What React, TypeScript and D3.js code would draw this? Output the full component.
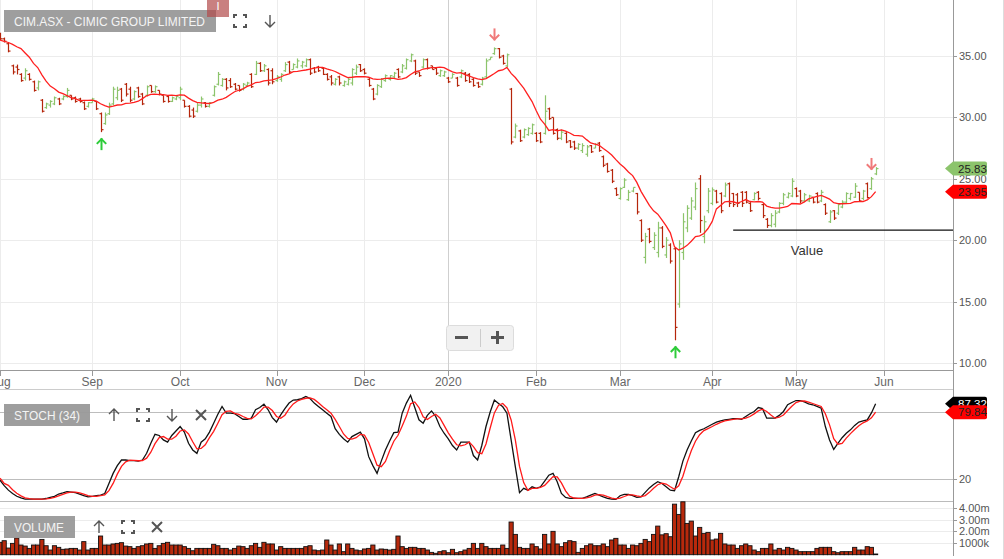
import React, { useEffect, useRef } from 'react';
import * as d3 from 'd3';

// daily bars, 1 Aug 2019 .. 29 May 2020 (index = trading day)
const opens = [
  36.8, 36.4, 36.0, 34.2, 34.1, 33.5, 33.2, 33.5, 32.9, 32.4,
  31.4, 30.8, 31.0, 31.1, 31.5, 31.5, 31.7, 31.8, 31.6, 31.5,
  31.2, 30.9, 31.2, 31.3, 30.3, 29.5, 30.3, 31.1, 31.6, 32.3,
  32.7, 32.3, 31.5, 32.4, 31.9, 31.8, 32.6, 32.1, 32.2, 31.8,
  31.7, 31.3, 31.5, 31.6, 31.4, 30.9, 30.6, 30.5, 31.0, 31.2,
  30.9, 31.8, 32.7, 32.6, 33.1, 33.0, 32.7, 32.6, 32.3, 32.6,
  33.5, 33.5, 34.4, 33.8, 33.9, 33.8, 33.0, 33.1, 33.8, 34.5,
  33.9, 34.1, 34.2, 34.2, 34.7, 34.0, 34.1, 34.0, 33.5, 33.3,
  32.7, 33.3, 32.6, 32.7, 32.8, 33.6, 34.3, 33.9, 33.1, 32.3,
  31.9, 32.5, 33.0, 33.1, 33.3, 33.9, 33.7, 34.0, 34.6, 34.6,
  33.7, 34.1, 34.7, 34.2, 34.0, 33.4, 33.4, 33.2, 33.2, 33.2,
  33.3, 33.6, 33.5, 33.1, 32.8, 32.7, 33.3, 34.7, 35.2, 35.6,
  35.0, 34.2, 32.3, 28.4, 28.9, 28.4, 28.6, 28.7, 28.7, 28.7,
  28.7, 30.7, 30.0, 29.0, 28.3, 28.7, 28.1, 28.0, 27.5, 27.3,
  27.0, 27.7, 27.5, 27.9, 26.8, 26.2, 25.7, 24.2, 23.4, 24.3,
  23.3, 24.0, 23.8, 21.6, 18.6, 20.9, 19.4, 19.0, 21.0, 18.8,
  19.6, 19.3, 14.8, 19.0, 21.0, 21.8, 22.7, 25.0, 20.3, 22.4,
  23.0, 24.0, 23.8, 23.6, 24.6, 23.8, 23.7, 23.9, 23.9, 23.0,
  23.3, 23.9, 22.9, 21.7, 21.2, 21.3, 22.3, 23.0, 23.5, 23.6,
  24.2, 24.0, 23.2, 23.2, 23.5, 23.8, 23.2, 22.9, 21.5, 22.4,
  22.2, 22.7, 23.1, 23.4, 23.5, 23.9, 23.4, 24.6, 24.2, 25.4
];
const highs = [
  36.9, 36.5, 36.1, 34.3, 34.3, 33.6, 34.0, 33.6, 33.0, 33.0,
  31.5, 31.2, 31.4, 31.7, 31.6, 31.8, 32.4, 31.8, 31.7, 31.6,
  31.3, 31.25, 31.6, 31.3, 30.4, 30.4, 31.2, 32.5, 32.5, 32.4,
  32.8, 32.5, 32.2, 32.5, 32.0, 32.6, 32.6, 32.6, 32.2, 31.8,
  31.8, 31.7, 31.8, 32.5, 31.4, 31.0, 30.8, 31.2, 31.7, 31.25,
  31.25, 32.6, 33.7, 33.2, 33.2, 33.2, 32.8, 32.6, 32.8, 32.9,
  33.6, 34.6, 34.5, 34.35, 34.0, 34.0, 33.45, 33.6, 34.5, 34.6,
  34.4, 34.8, 34.6, 34.8, 34.8, 34.1, 34.2, 34.1, 33.6, 33.45,
  33.2, 33.4, 33.0, 33.2, 34.0, 34.3, 34.35, 34.0, 33.2, 32.4,
  32.7, 33.2, 33.5, 33.45, 33.7, 34.0, 34.35, 34.8, 35.2, 34.7,
  33.7, 34.8, 34.8, 34.2, 34.1, 33.9, 33.8, 33.3, 33.6, 33.3,
  33.9, 33.7, 33.6, 33.2, 32.9, 33.3, 34.8, 34.9, 35.7, 35.65,
  35.1, 35.2, 32.4, 29.5, 29.0, 29.1, 29.2, 29.5, 28.8, 28.8,
  31.8, 30.8, 30.0, 29.1, 29.0, 28.8, 28.15, 28.1, 27.9, 27.9,
  27.75, 27.75, 27.9, 28.0, 26.9, 26.3, 25.8, 24.3, 24.3, 25.05,
  24.1, 24.3, 23.85, 21.7, 20.6, 21.0, 20.65, 21.5, 21.15, 20.25,
  19.75, 19.4, 20.0, 22.2, 22.85, 23.5, 24.7, 25.3, 22.0, 24.25,
  24.3, 24.1, 23.9, 24.7, 24.7, 23.85, 23.85, 24.0, 24.0, 23.1,
  23.9, 24.0, 23.0, 21.8, 22.2, 22.45, 23.1, 23.85, 23.9, 25.05,
  24.3, 24.1, 23.85, 23.7, 23.5, 23.9, 24.1, 23.0, 22.45, 22.45,
  23.0, 23.25, 23.9, 23.85, 24.65, 23.9, 24.1, 24.7, 25.15, 25.95
];
const lows = [
  36.3, 36.1, 35.3, 33.5, 33.5, 32.9, 33.0, 33.0, 32.1, 32.2,
  30.4, 30.7, 30.8, 31.0, 31.0, 31.4, 31.6, 31.4, 31.2, 31.2,
  30.6, 30.8, 31.2, 30.6, 28.8, 29.4, 30.2, 31.0, 31.4, 31.25,
  31.7, 31.25, 31.4, 31.6, 31.0, 31.7, 32.0, 32.0, 31.8, 31.2,
  31.2, 31.25, 31.4, 31.4, 30.8, 30.0, 29.95, 30.4, 30.8, 30.8,
  30.8, 31.7, 32.6, 32.5, 32.2, 32.4, 32.2, 32.1, 32.2, 32.5,
  32.4, 33.45, 33.7, 33.7, 32.6, 32.7, 32.9, 32.9, 33.7, 33.6,
  33.9, 34.0, 34.0, 34.1, 33.45, 33.6, 33.7, 33.45, 33.0, 32.6,
  32.6, 32.6, 32.5, 32.6, 32.6, 33.45, 33.7, 33.5, 32.5, 31.4,
  31.8, 32.4, 32.9, 33.0, 33.2, 33.2, 33.6, 33.9, 34.5, 33.45,
  33.3, 34.0, 33.9, 33.9, 33.45, 33.3, 33.3, 32.8, 33.2, 32.5,
  33.2, 32.9, 32.8, 32.5, 32.4, 32.6, 33.2, 34.7, 35.1, 34.8,
  34.3, 34.1, 27.8, 28.3, 28.0, 28.3, 28.5, 28.6, 28.0, 27.9,
  28.6, 29.8, 28.6, 28.15, 28.15, 27.9, 27.5, 27.35, 27.35, 27.1,
  26.8, 27.1, 27.5, 27.2, 25.95, 25.5, 24.65, 23.6, 23.3, 24.25,
  23.2, 23.9, 22.1, 19.85, 18.1, 19.75, 19.2, 18.6, 19.35, 18.55,
  18.1, 11.85, 14.5, 18.4, 20.65, 21.65, 22.45, 20.6, 19.75, 22.2,
  22.85, 23.0, 22.2, 23.5, 22.7, 22.7, 22.7, 22.7, 23.0, 22.3,
  23.25, 23.25, 21.8, 21.0, 21.05, 21.05, 22.2, 22.85, 23.4, 23.5,
  23.5, 23.0, 23.1, 23.1, 23.0, 23.0, 23.1, 22.05, 21.4, 21.65,
  22.05, 22.6, 23.0, 23.25, 23.45, 23.15, 23.25, 23.4, 24.1, 25.3
];
const closes = [
  36.4, 36.2, 35.4, 33.7, 33.9, 33.0, 33.8, 33.1, 32.2, 32.9,
  30.5, 31.1, 31.3, 31.6, 31.1, 31.7, 32.2, 31.5, 31.3, 31.3,
  30.7, 31.2, 31.5, 30.7, 29.0, 30.2, 31.0, 32.3, 32.2, 31.4,
  31.9, 31.4, 32.1, 31.7, 31.1, 32.5, 32.1, 32.5, 31.9, 31.3,
  31.3, 31.6, 31.7, 32.3, 30.9, 30.1, 30.1, 31.0, 31.5, 30.9,
  31.2, 32.5, 33.5, 33.1, 32.4, 32.5, 32.3, 32.2, 32.7, 32.8,
  32.5, 34.4, 33.8, 34.2, 32.8, 32.9, 33.3, 33.5, 34.3, 33.7,
  34.3, 34.6, 34.5, 34.7, 33.6, 33.7, 33.8, 33.5, 33.1, 32.8,
  33.1, 32.8, 32.9, 33.1, 33.9, 34.1, 33.8, 33.6, 32.6, 31.5,
  32.6, 33.1, 33.4, 33.4, 33.6, 33.3, 34.2, 34.7, 35.1, 33.6,
  33.4, 34.7, 34.0, 33.9, 33.6, 33.8, 33.7, 32.9, 33.5, 32.6,
  33.8, 33.0, 32.9, 32.6, 32.5, 33.2, 34.6, 34.9, 35.6, 34.9,
  34.4, 35.1, 28.0, 29.3, 28.1, 29.0, 29.1, 29.4, 28.1, 28.0,
  30.5, 29.9, 28.7, 28.3, 28.8, 28.0, 27.6, 27.5, 27.8, 27.7,
  27.6, 27.2, 27.8, 27.3, 26.1, 25.6, 24.8, 23.7, 24.2, 24.9,
  23.9, 24.3, 22.3, 20.0, 20.3, 19.9, 20.4, 21.0, 19.5, 20.0,
  18.3, 12.9, 19.7, 21.5, 22.6, 23.2, 24.2, 21.6, 21.5, 24.0,
  24.1, 23.1, 22.4, 24.5, 23.0, 22.9, 23.0, 23.0, 23.1, 22.4,
  23.8, 23.4, 22.0, 21.2, 22.0, 22.2, 23.0, 23.7, 23.8, 24.8,
  23.6, 23.2, 23.7, 23.6, 23.1, 23.1, 23.9, 22.2, 22.3, 21.8,
  22.9, 23.1, 23.8, 23.8, 24.4, 23.2, 24.0, 23.47, 25.0, 25.83
];
// volume, millions of shares
const volumes = [
  1.06, 1.2, 0.57, 0.97, 1.43, 0.83, 0.74, 0.54, 0.83, 0.83,
  1.31, 0.77, 0.4, 0.77, 0.63, 0.46, 0.49, 0.54, 0.54, 0.4,
  1.12, 0.4, 0.54, 0.54, 1.6, 0.83, 0.83, 0.92, 0.97, 1.03,
  0.74, 0.69, 0.54, 0.69, 0.77, 0.92, 0.97, 0.54, 0.77, 0.97,
  1.06, 0.83, 0.83, 0.83, 0.69, 0.54, 0.34, 0.54, 0.54, 0.54,
  0.54, 0.89, 0.77, 0.54, 0.54, 0.4, 0.54, 0.74, 0.69, 0.54,
  0.77, 0.97, 0.63, 1.06, 0.92, 0.92, 0.4, 0.69, 0.54, 0.54,
  0.54, 0.54, 0.54, 0.69, 0.77, 0.4, 0.34, 0.4, 1.26, 0.83,
  0.4, 0.92, 0.26, 0.92, 0.54, 0.4, 0.34, 0.49, 0.54, 0.83,
  0.4, 0.49, 0.46, 0.4, 0.46, 1.6, 0.69, 0.54, 0.63, 0.63,
  0.54, 0.54, 0.4, 0.2, 0.12, 0.26, 0.34, 0.17, 0.46, 0.17,
  0.26, 0.4, 0.54, 0.97, 0.54, 0.97, 0.69, 0.54, 0.54, 0.54,
  0.83, 0.54, 2.8, 1.74, 0.63, 0.54, 0.54, 0.92, 0.69, 0.49,
  1.74, 0.92, 2.0, 0.92, 0.69, 1.03, 1.2, 1.12, 0.2, 0.54,
  0.77, 0.92, 0.77, 0.77, 0.92, 0.69, 1.26, 1.4, 0.83, 0.83,
  0.54, 0.83, 0.77, 0.97, 1.31, 1.12, 1.74, 2.45, 1.7, 1.8,
  1.54, 4.33, 3.45, 4.53, 2.68, 2.88, 1.6, 2.34, 1.83, 1.91,
  1.26, 1.34, 1.83, 0.92, 0.83, 0.83, 0.54, 0.77, 0.92, 0.77,
  0.4, 0.26, 0.54, 0.54, 0.92, 0.4, 0.54, 0.4, 0.63, 0.54,
  0.4, 0.26, 0.26, 0.26, 0.26, 0.54, 0.63, 0.63, 0.63, 0.26,
  0.17, 0.26, 0.26, 0.26, 0.63, 0.4, 0.4, 0.69, 0.63, 0.06
];
// slow stochastic %K (34)
const stochK = [
  19, 14, 10, 7, 4.5, 3, 2, 2, 2, 2,
  2, 2.5, 3.5, 4.5, 6.5, 7.5, 8.6, 8.3, 7.7, 6.5,
  5, 4, 4.5, 5, 5.5, 7, 16, 25, 32, 37,
  37, 36.5, 36.5, 36, 37, 43, 52, 60, 59, 55,
  53, 59, 63, 67, 62, 52, 46, 43, 53, 56,
  62, 70, 78, 85, 79, 79, 78.5, 76, 73.5, 73.5,
  74.5, 82, 84, 87, 82, 75, 71, 77.5, 83, 88,
  90.7, 91, 92, 94, 92, 88, 85, 82, 79, 76,
  65, 60, 56, 53, 58, 60, 62, 56, 40, 32,
  25, 36, 46, 54, 61.5, 62, 79, 88, 95, 84,
  73, 70, 77, 81, 76, 67, 61, 56, 50, 46,
  53, 53, 53, 41, 37, 50, 67, 80, 90.7, 87.7,
  84.7, 79, 55, 31, 7.7, 11.6, 10, 13, 11.6, 13,
  18, 23.4, 25, 17.5, 7, 3.5, 2.7, 2.7, 2.7, 2.7,
  4, 5.5, 7, 5.6, 4, 2.7, 2, 1.7, 5, 6.2,
  6.2, 5, 3.5, 4, 8, 12, 15, 17.5, 16, 13,
  10, 9.5, 22, 36, 46, 54, 61.5, 63.5, 65, 67,
  69, 71, 72, 73, 73.5, 74, 74, 73.5, 76, 78.5,
  80.5, 84, 83, 74.5, 74.5, 74.5, 77, 80.5, 86.5, 88.5,
  90.3, 90.3, 89, 87.4, 86.5, 85, 83.5, 67, 55, 46.5,
  52, 57, 61, 64, 68, 71, 72, 73, 79.2, 87.32
];
// indicator values before the first visible bar
const maLeadIn = [36.3, 36.2, 36.1, 35.95, 35.75, 35.6, 35.25, 34.9, 34.4];
const stochDLeadIn = [20.7, 16];

const monthLabels = ['Aug', 'Sep', 'Oct', 'Nov', 'Dec', '2020', 'Feb', 'Mar', 'Apr', 'May', 'Jun'];
const monthIdx = [0, 22, 43, 66, 87, 107, 128, 148, 170, 190, 211];
const priceTicks = [10, 15, 20, 25, 30, 35];
const volTicks = [1, 2, 3, 4];
const volTickLabels = ['1000k', '2.00m', '3.00m', '4.00m'];
const stochLevels = [20, 80];
const buySignals = [24, 161];
const sellSignals = [118, 208];
const valueLevel = 20.82;
const valueFrom = 175;

const FONT = "'Liberation Sans', Arial, sans-serif";
const UP = '#8cc46c';
const DOWN = '#b5260b';

const App: React.FC = () => {
  const svgRef = useRef<SVGSVGElement>(null);

  useEffect(() => {
    if (!svgRef.current) return;
    const svg = d3.select(svgRef.current);
    svg.selectAll('*').remove();

    const axisX = 953;
    const n = closes.length;

    const x = d3.scaleLinear().domain([0, 211]).range([0, 884]);
    const y = d3.scaleLinear().domain([10, 35]).range([363, 56]);
    const ys = d3.scaleLinear().domain([0, 100]).range([501.3, 389.7]);
    const yv = d3.scaleLinear().domain([0, 4]).range([554.7, 508]);

    // moving average (10) and %D (3)
    const ma = closes.map((c, i) => i < 9 ? maLeadIn[i] : d3.mean(closes.slice(i - 9, i + 1)) as number);
    const stochD = stochK.map((k, i) => i < 2 ? stochDLeadIn[i] : d3.mean(stochK.slice(i - 2, i + 1)) as number);

    const defs = svg.append('defs');
    defs.append('clipPath').attr('id', 'clipMain')
      .append('rect').attr('x', 0).attr('y', 0).attr('width', axisX).attr('height', 370);
    defs.append('clipPath').attr('id', 'clipStoch')
      .append('rect').attr('x', 0).attr('y', 390).attr('width', axisX).attr('height', 111);

    svg.append('rect').attr('width', 1004).attr('height', 559).attr('fill', '#fff');

    // grid
    const grid = svg.append('g');
    grid.selectAll('line.h').data(priceTicks).enter().append('line')
      .attr('x1', 0).attr('x2', axisX)
      .attr('y1', d => Math.round(y(d)) + 0.5).attr('y2', d => Math.round(y(d)) + 0.5)
      .attr('stroke', '#ececec');
    grid.selectAll('line.v').data(monthIdx).enter().append('line')
      .attr('x1', d => Math.round(x(d)) + 0.5).attr('x2', d => Math.round(x(d)) + 0.5)
      .attr('y1', 0).attr('y2', 370)
      .attr('stroke', (d, i) => monthLabels[i] === '2020' ? '#cfcfcf' : '#ececec');
    grid.selectAll('line.vol').data(volTicks).enter().append('line')
      .attr('x1', 0).attr('x2', axisX)
      .attr('y1', d => Math.round(yv(d)) + 0.5).attr('y2', d => Math.round(yv(d)) + 0.5)
      .attr('stroke', '#ececec');

    // panel borders
    svg.append('line').attr('x1', 0).attr('x2', axisX).attr('y1', 370.5).attr('y2', 370.5).attr('stroke', '#999');
    svg.append('line').attr('x1', 0).attr('x2', axisX).attr('y1', 389.5).attr('y2', 389.5).attr('stroke', '#ccc');
    svg.append('line').attr('x1', 0).attr('x2', axisX).attr('y1', 501.5).attr('y2', 501.5).attr('stroke', '#bbb');
    svg.selectAll('line.lvl').data(stochLevels).enter().append('line')
      .attr('x1', 0).attr('x2', axisX)
      .attr('y1', d => Math.round(ys(d)) + 0.5).attr('y2', d => Math.round(ys(d)) + 0.5)
      .attr('stroke', '#bdbdbd');
    svg.append('line').attr('x1', axisX + 0.5).attr('x2', axisX + 0.5).attr('y1', 0).attr('y2', 556).attr('stroke', '#999');
    svg.append('line').attr('x1', 1003.5).attr('x2', 1003.5).attr('y1', 0).attr('y2', 559).attr('stroke', '#ddd');

    // month axis
    svg.selectAll('line.mt').data(monthIdx).enter().append('line')
      .attr('x1', d => Math.round(x(d)) + 0.5).attr('x2', d => Math.round(x(d)) + 0.5)
      .attr('y1', 370).attr('y2', 376).attr('stroke', '#999');
    svg.selectAll('text.month').data(monthLabels).enter().append('text')
      .attr('x', (d, i) => x(monthIdx[i])).attr('y', 386)
      .attr('text-anchor', 'middle').attr('font-family', FONT).attr('font-size', 12)
      .attr('fill', '#666').text(d => d);

    // right axis labels
    const rAxis = svg.append('g').attr('font-family', FONT).attr('font-size', 11).attr('fill', '#555');
    const tick = (yy: number, label: string) => {
      rAxis.append('line').attr('x1', axisX).attr('x2', axisX + 4)
        .attr('y1', Math.round(yy) + 0.5).attr('y2', Math.round(yy) + 0.5).attr('stroke', '#999');
      rAxis.append('text').attr('x', axisX + 6).attr('y', yy + 4).text(label);
    };
    priceTicks.forEach(p => tick(y(p), p.toFixed(2)));
    tick(ys(20), '20');
    volTicks.forEach((v, i) => tick(yv(v), volTickLabels[i]));

    // OHLC bars
    const main = svg.append('g').attr('clip-path', 'url(#clipMain)');
    const bars = main.selectAll('g.bar').data(d3.range(n)).enter().append('g')
      .attr('stroke', i => closes[i] >= opens[i] ? UP : DOWN)
      .attr('stroke-width', 1.2);
    bars.append('line')
      .attr('x1', i => Math.round(x(i)) + 0.5).attr('x2', i => Math.round(x(i)) + 0.5)
      .attr('y1', i => y(highs[i])).attr('y2', i => y(lows[i]));
    bars.append('line')
      .attr('x1', i => Math.round(x(i)) - 1.5).attr('x2', i => Math.round(x(i)) + 0.5)
      .attr('y1', i => y(opens[i])).attr('y2', i => y(opens[i]));
    bars.append('line')
      .attr('x1', i => Math.round(x(i)) + 0.5).attr('x2', i => Math.round(x(i)) + 2.5)
      .attr('y1', i => y(closes[i])).attr('y2', i => y(closes[i]));

    // moving average
    const maLine = d3.line<number>().x((d, i) => x(i)).y(d => y(d));
    main.append('path').datum(ma).attr('d', maLine)
      .attr('fill', 'none').attr('stroke', '#ff2020').attr('stroke-width', 1.3);

    // value line
    svg.append('line').attr('x1', x(valueFrom)).attr('x2', axisX)
      .attr('y1', y(valueLevel)).attr('y2', y(valueLevel))
      .attr('stroke', '#111').attr('stroke-width', 1.4);
    svg.append('text').attr('x', 807).attr('y', y(valueLevel) + 25)
      .attr('text-anchor', 'middle').attr('font-family', FONT).attr('font-size', 13)
      .attr('fill', '#333').text('Value');

    // signal arrows
    const arrow = (cx: number, tipY: number, dir: number, color: string) => {
      const g = svg.append('g').attr('stroke', color).attr('stroke-width', 2)
        .attr('fill', 'none').attr('stroke-linecap', 'square');
      g.append('path').attr('d', `M${cx},${tipY} L${cx},${tipY + dir * 10}`);
      g.append('path').attr('d', `M${cx - 4},${tipY + dir * 4} L${cx},${tipY} L${cx + 4},${tipY + dir * 4}`);
    };
    buySignals.forEach(i => arrow(Math.round(x(i)) + 0.5, y(lows[i]) + 7, 1, '#2ecc3a'));
    sellSignals.forEach(i => arrow(Math.round(x(i)) + 0.5, y(highs[i]) - 8, -1, '#f07a7a'));

    // stochastic
    const stoch = svg.append('g').attr('clip-path', 'url(#clipStoch)');
    const sLine = d3.line<number>().x((d, i) => x(i)).y(d => ys(d));
    stoch.append('path').datum(stochK).attr('d', sLine)
      .attr('fill', 'none').attr('stroke', '#111').attr('stroke-width', 1.3);
    stoch.append('path').datum(stochD).attr('d', sLine)
      .attr('fill', 'none').attr('stroke', '#ff1a1a').attr('stroke-width', 1.3);

    // volume
    const bw = x(1) - x(0);
    svg.append('g').selectAll('rect').data(volumes).enter().append('rect')
      .attr('x', (d, i) => x(i) - bw / 2).attr('width', bw)
      .attr('y', d => yv(d)).attr('height', d => yv(0) - yv(d))
      .attr('fill', '#b8290c').attr('stroke', '#111').attr('stroke-width', 0.9);

    // value tags on the right axis
    const tag = (cy: number, label: string, fill: string, color: string) => {
      const x0 = 945, x1 = 987, h = 14;
      svg.append('path')
        .attr('d', `M${x0},${cy} L${x0 + 8},${cy - h / 2} L${x1 - 2},${cy - h / 2} Q${x1},${cy - h / 2} ${x1},${cy - h / 2 + 2} L${x1},${cy + h / 2 - 2} Q${x1},${cy + h / 2} ${x1 - 2},${cy + h / 2} L${x0 + 8},${cy + h / 2} Z`)
        .attr('fill', fill);
      svg.append('text').attr('x', 958).attr('y', cy + 4)
        .attr('font-family', FONT).attr('font-size', 11.5).attr('fill', color).text(label);
    };
    tag(y(closes[n - 1]), closes[n - 1].toFixed(2), '#8cc46c', '#222');
    tag(y(ma[n - 1]), ma[n - 1].toFixed(2), '#ff0000', '#222');
    tag(ys(stochK[n - 1]), stochK[n - 1].toFixed(2), '#000', '#fff');
    tag(ys(stochD[n - 1]), stochD[n - 1].toFixed(2), '#ff0000', '#222');

    // labels and toolbar icons
    const label = (x0: number, y0: number, w: number, text: string, tw: number) => {
      svg.append('rect').attr('x', x0).attr('y', y0).attr('width', w).attr('height', 22)
        .attr('fill', '#999').attr('opacity', 0.95);
      svg.append('text').attr('x', x0 + 10).attr('y', y0 + 16)
        .attr('font-family', FONT).attr('font-size', 13).attr('fill', '#f4f4f4')
        .attr('textLength', tw).attr('lengthAdjust', 'spacingAndGlyphs').text(text);
    };
    const icon = svg.append('g').attr('stroke', '#555').attr('stroke-width', 1.4).attr('fill', 'none');
    const up = (cx: number, cy: number) => icon.append('path')
      .attr('d', `M${cx},${cy + 6} L${cx},${cy - 6} M${cx - 5},${cy - 1} L${cx},${cy - 6} L${cx + 5},${cy - 1}`);
    const down = (cx: number, cy: number) => icon.append('path')
      .attr('d', `M${cx},${cy - 6} L${cx},${cy + 6} M${cx - 5},${cy + 1} L${cx},${cy + 6} L${cx + 5},${cy + 1}`);
    const full = (cx: number, cy: number) => icon.append('path').attr('stroke-width', 2)
      .attr('d', `M${cx - 6},${cy - 3} V${cy - 6} H${cx - 3} M${cx + 3},${cy - 6} H${cx + 6} V${cy - 3} M${cx + 6},${cy + 3} V${cy + 6} H${cx + 3} M${cx - 3},${cy + 6} H${cx - 6} V${cy + 3}`);
    const close = (cx: number, cy: number) => icon.append('path').attr('stroke-width', 2)
      .attr('d', `M${cx - 5},${cy - 5} L${cx + 5},${cy + 5} M${cx + 5},${cy - 5} L${cx - 5},${cy + 5}`);

    label(4, 10, 212, 'CIM.ASX - CIMIC GROUP LIMITED', 191);
    svg.append('rect').attr('x', 207).attr('y', 0).attr('width', 22).attr('height', 17)
      .attr('fill', '#b24a4a').attr('opacity', 0.7);
    svg.append('text').attr('x', 218).attr('y', 10).attr('text-anchor', 'middle')
      .attr('font-family', FONT).attr('font-size', 11).attr('fill', '#fff').text('I');
    full(240, 21); down(270, 21);

    label(4, 404, 86, 'STOCH (34)', 66);
    up(114, 415); full(143, 415); down(172, 415); close(201, 415);

    label(4, 516, 71, 'VOLUME', 50);
    up(99, 527); full(128, 527); close(157, 527);

    // zoom control
    const zc = svg.append('g');
    zc.append('rect').attr('x', 446.5).attr('y', 325.5).attr('width', 67).attr('height', 25).attr('rx', 3)
      .attr('fill', '#f1f1f1').attr('stroke', '#dcdcdc');
    zc.append('line').attr('x1', 480.5).attr('x2', 480.5).attr('y1', 329).attr('y2', 347).attr('stroke', '#ccc');
    zc.append('path').attr('d', 'M455,337.5 H468 M491,337.5 H504 M497.5,331 V344')
      .attr('stroke', '#555').attr('stroke-width', 3);
  }, []);

  return (
    <svg ref={svgRef} width={1004} height={559}
      style={{ position: 'absolute', left: 0, top: 0, background: '#fff' }} />
  );
};

export default App;
